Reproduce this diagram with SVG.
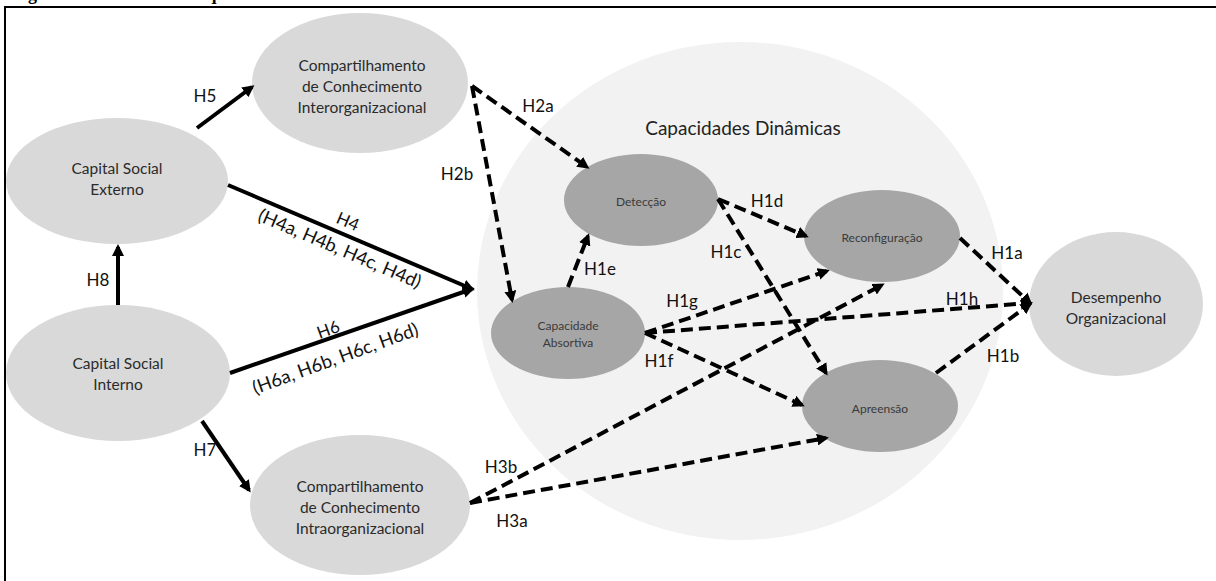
<svg xmlns="http://www.w3.org/2000/svg" width="1216" height="581" viewBox="0 0 1216 581">
<defs>
<marker id="ah" viewBox="0 0 12 12" refX="9" refY="6" markerWidth="12" markerHeight="12" markerUnits="userSpaceOnUse" orient="auto"><path d="M0,0 L12,6 L0,12 z" fill="#000"/></marker>
<style>
.frame{fill:none;stroke:#000;stroke-width:2}
.title{font-family:"Liberation Serif",serif;font-weight:bold;font-size:18px;fill:#000}
.cd{fill:#f2f2f2}
.light{fill:#d9d9d9}
.dark{fill:#a6a6a6}
.t{font-family:Lato,"Open Sans",sans-serif;text-anchor:middle;dominant-baseline:central}
.tl{font-size:15.5px;fill:#2b2b2b}
.ts{font-size:12px;fill:#3a3a3a}
.cdl{font-size:19px;fill:#222}
.lbl{font-family:Lato,"Open Sans",sans-serif;font-size:17px;fill:#111;text-anchor:middle;dominant-baseline:central}
.par{font-size:18.5px}
.sol{stroke:#000;stroke-width:4;fill:none;marker-end:url(#ah)}
.dsh{stroke:#000;stroke-width:4;fill:none;stroke-dasharray:12 6;marker-end:url(#ah)}
</style>
</defs>
<rect width="1216" height="581" fill="#fff"/>
<text class="title" x="12" y="0">Figura 1 – Modelo de Pesquisa – Constructos de Primeira Ordem</text>
<path class="frame" d="M5,581 V7 H1216"/>

<g id="capacidades-dinamicas">
<ellipse class="cd" cx="740" cy="291" rx="263" ry="249"/>
<text class="t cdl" x="743" y="127">Capacidades Dinâmicas</text>
</g>

<g id="capital-social-externo">
<ellipse class="light" cx="117" cy="181" rx="111" ry="63"/>
<text class="t tl" x="117" y="168">Capital Social</text>
<text class="t tl" x="117" y="189">Externo</text>
</g>
<g id="capital-social-interno">
<ellipse class="light" cx="118" cy="373" rx="112" ry="68"/>
<text class="t tl" x="118" y="363">Capital Social</text>
<text class="t tl" x="118" y="384">Interno</text>
</g>
<g id="compartilhamento-inter">
<ellipse class="light" cx="360" cy="83" rx="108" ry="70"/>
<text class="t tl" x="362" y="65">Compartilhamento</text>
<text class="t tl" x="362" y="86">de Conhecimento</text>
<text class="t tl" x="362" y="107">Interorganizacional</text>
</g>
<g id="compartilhamento-intra">
<ellipse class="light" cx="360" cy="505" rx="110" ry="70"/>
<text class="t tl" x="360" y="486">Compartilhamento</text>
<text class="t tl" x="360" y="507">de Conhecimento</text>
<text class="t tl" x="360" y="528">Intraorganizacional</text>
</g>
<g id="deteccao">
<ellipse class="dark" cx="641" cy="200" rx="77" ry="46"/>
<text class="t ts" x="641" y="201">Detecção</text>
</g>
<g id="capacidade-absortiva">
<ellipse class="dark" cx="568" cy="333" rx="77" ry="46"/>
<text class="t ts" x="568" y="325">Capacidade</text>
<text class="t ts" x="568" y="342">Absortiva</text>
</g>
<g id="reconfiguracao">
<ellipse class="dark" cx="882" cy="236" rx="78" ry="46"/>
<text class="t ts" x="882" y="237">Reconfiguração</text>
</g>
<g id="apreensao">
<ellipse class="dark" cx="880" cy="406" rx="78" ry="46"/>
<text class="t ts" x="880" y="408">Apreensão</text>
</g>
<g id="desempenho-organizacional">
<ellipse class="light" cx="1116" cy="304" rx="87" ry="72"/>
<text class="t tl" x="1116" y="297">Desempenho</text>
<text class="t tl" x="1116" y="318">Organizacional</text>
</g>

<g id="connectors">
<path class="sol" d="M197,128 L252,87"/>
<path class="sol" d="M118,305 L118,247"/>
<path class="sol" d="M228,185 L472,289"/>
<path class="sol" d="M230,373 L472,289"/>
<path class="sol" d="M202,421 L249,490"/>
<path class="dsh" d="M472,86 L587,167"/>
<path class="dsh" d="M472,86 L512,300"/>
<path class="dsh" d="M568,287 L588,236"/>
<path class="dsh" d="M718,199 L806,236"/>
<path class="dsh" d="M718,199 L826,373"/>
<path class="dsh" d="M645,333 L827,271"/>
<path class="dsh" d="M645,333 L1030,303"/>
<path class="dsh" d="M645,333 L802,405"/>
<path class="dsh" d="M470,503 L882,285"/>
<path class="dsh" d="M470,503 L826,438"/>
<path class="dsh" d="M960,238 L1030,303"/>
<path class="dsh" d="M936,373 L1030,304"/>
<text class="lbl" x="205" y="95">H5</text>
<text class="lbl" x="98" y="279">H8</text>
<text class="lbl" transform="translate(348,221) rotate(23)">H4</text>
<text class="lbl par" transform="translate(340,248) rotate(23)">(H4a, H4b, H4c, H4d)</text>
<text class="lbl" transform="translate(328,329) rotate(-20)">H6</text>
<text class="lbl par" transform="translate(335,358) rotate(-20)">(H6a, H6b, H6c, H6d)</text>
<text class="lbl" x="205" y="449">H7</text>
<text class="lbl" x="538" y="105">H2a</text>
<text class="lbl" x="457" y="173">H2b</text>
<text class="lbl" x="600" y="268">H1e</text>
<text class="lbl" x="767" y="200">H1d</text>
<text class="lbl" x="726" y="251">H1c</text>
<text class="lbl" x="682" y="300">H1g</text>
<text class="lbl" x="962" y="298">H1h</text>
<text class="lbl" x="1007" y="252">H1a</text>
<text class="lbl" x="659" y="360">H1f</text>
<text class="lbl" x="1003" y="355">H1b</text>
<text class="lbl" x="501" y="466">H3b</text>
<text class="lbl" x="512" y="520">H3a</text>
</g>
</svg>
